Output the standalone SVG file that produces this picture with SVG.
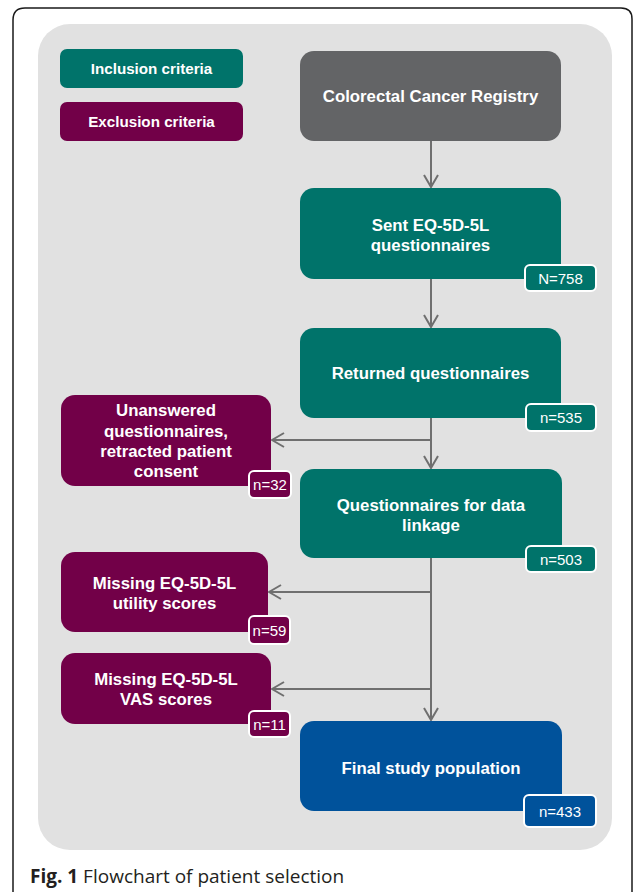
<svg xmlns="http://www.w3.org/2000/svg" width="633" height="892" viewBox="0 0 633 892">
<defs>
<style>
.t{font-family:"Liberation Sans",Arial,sans-serif;font-weight:bold;font-size:16.8px;fill:#fff;text-anchor:middle}
.lg{font-size:15.2px}
.b{font-family:"Liberation Sans",Arial,sans-serif;font-size:15px;fill:#fff;text-anchor:middle}
.inc{fill:#00736a}
.exc{fill:#720048}
.reg{fill:#636466}
.fin{fill:#00529b}
.badge{stroke:#fff;stroke-width:2}
.ln{stroke:#6f6f6f;stroke-width:2;fill:none}
</style>
<marker id="ah" viewBox="0 0 14 16" refX="13" refY="8" markerWidth="14" markerHeight="16" markerUnits="userSpaceOnUse" orient="auto">
<path d="M1,1 L13,8 L1,15" fill="none" stroke="#6f6f6f" stroke-width="2"/>
</marker>
</defs>
<rect width="633" height="892" fill="#fff"/>
<path d="M13,892 V20 Q13,8 25,8 H621 Q632,8 632,19 V892" fill="none" stroke="#1a1a1a" stroke-width="1.5"/>
<rect x="38" y="24" width="574" height="826" rx="32" fill="#e1e1e1"/>

<g id="connectors">
<line class="ln" x1="431" y1="141" x2="431" y2="187" marker-end="url(#ah)"/>
<line class="ln" x1="431" y1="279" x2="431" y2="327" marker-end="url(#ah)"/>
<line class="ln" x1="431" y1="418" x2="431" y2="468" marker-end="url(#ah)"/>
<line class="ln" x1="431" y1="440" x2="272" y2="440" marker-end="url(#ah)"/>
<line class="ln" x1="431" y1="558" x2="431" y2="720" marker-end="url(#ah)"/>
<line class="ln" x1="431" y1="592" x2="269" y2="592" marker-end="url(#ah)"/>
<line class="ln" x1="431" y1="689" x2="272" y2="689" marker-end="url(#ah)"/>
</g>

<g id="legend-inclusion">
<rect class="inc" x="60" y="49" width="183" height="39" rx="7"/>
<text class="t lg" x="151.5" y="74">Inclusion criteria</text>
</g>
<g id="legend-exclusion">
<rect class="exc" x="60" y="102" width="183" height="39" rx="7"/>
<text class="t lg" x="151.5" y="127">Exclusion criteria</text>
</g>

<g id="registry">
<rect class="reg" x="300" y="51" width="261" height="90" rx="14"/>
<text class="t" x="430.5" y="102">Colorectal Cancer Registry</text>
</g>

<g id="sent">
<rect class="inc" x="300" y="188" width="261" height="91" rx="14"/>
<text class="t" x="430.5" y="231">Sent EQ-5D-5L</text>
<text class="t" x="430.5" y="251">questionnaires</text>
<rect class="inc badge" x="525" y="265" width="71" height="26" rx="5"/>
<text class="b" x="560.5" y="283.5">N=758</text>
</g>

<g id="returned">
<rect class="inc" x="300" y="328" width="261" height="90" rx="14"/>
<text class="t" x="430.5" y="379">Returned questionnaires</text>
<rect class="inc badge" x="526" y="404" width="70" height="27" rx="5"/>
<text class="b" x="561" y="423">n=535</text>
</g>

<g id="linkage">
<rect class="inc" x="300" y="469" width="262" height="89" rx="14"/>
<text class="t" x="431" y="511">Questionnaires  for data</text>
<text class="t" x="431" y="531">linkage</text>
<rect class="inc badge" x="526" y="546" width="70" height="26" rx="5"/>
<text class="b" x="561" y="564.5">n=503</text>
</g>

<g id="final">
<rect class="fin" x="300" y="721" width="262" height="90" rx="14"/>
<text class="t" x="431" y="774">Final  study population</text>
<rect class="fin badge" x="524" y="795" width="72" height="32" rx="5"/>
<text class="b" x="560" y="816.5">n=433</text>
</g>

<g id="unanswered">
<rect class="exc" x="61" y="395" width="210" height="91" rx="14"/>
<text class="t" x="166" y="416">Unanswered</text>
<text class="t" x="166" y="437">questionnaires,</text>
<text class="t" x="166" y="457">retracted patient</text>
<text class="t" x="166" y="477">consent</text>
<rect class="exc badge" x="249" y="471" width="42" height="27" rx="5"/>
<text class="b" x="270" y="490">n=32</text>
</g>

<g id="missing-utility">
<rect class="exc" x="61" y="552" width="207" height="80" rx="14"/>
<text class="t" x="164.5" y="589">Missing  EQ-5D-5L</text>
<text class="t" x="164.5" y="609">utility scores</text>
<rect class="exc badge" x="249" y="616" width="41" height="28" rx="5"/>
<text class="b" x="269.5" y="635.5">n=59</text>
</g>

<g id="missing-vas">
<rect class="exc" x="61" y="653" width="210" height="71" rx="14"/>
<text class="t" x="166" y="685">Missing  EQ-5D-5L</text>
<text class="t" x="166" y="705">VAS scores</text>
<rect class="exc badge" x="249" y="711" width="41" height="26" rx="5"/>
<text class="b" x="269.5" y="729.5">n=11</text>
</g>

<text x="30" y="883" font-family="'Open Sans',sans-serif" font-size="19" fill="#231f20"><tspan font-weight="bold">Fig. 1</tspan> Flowchart of patient selection</text>
</svg>
